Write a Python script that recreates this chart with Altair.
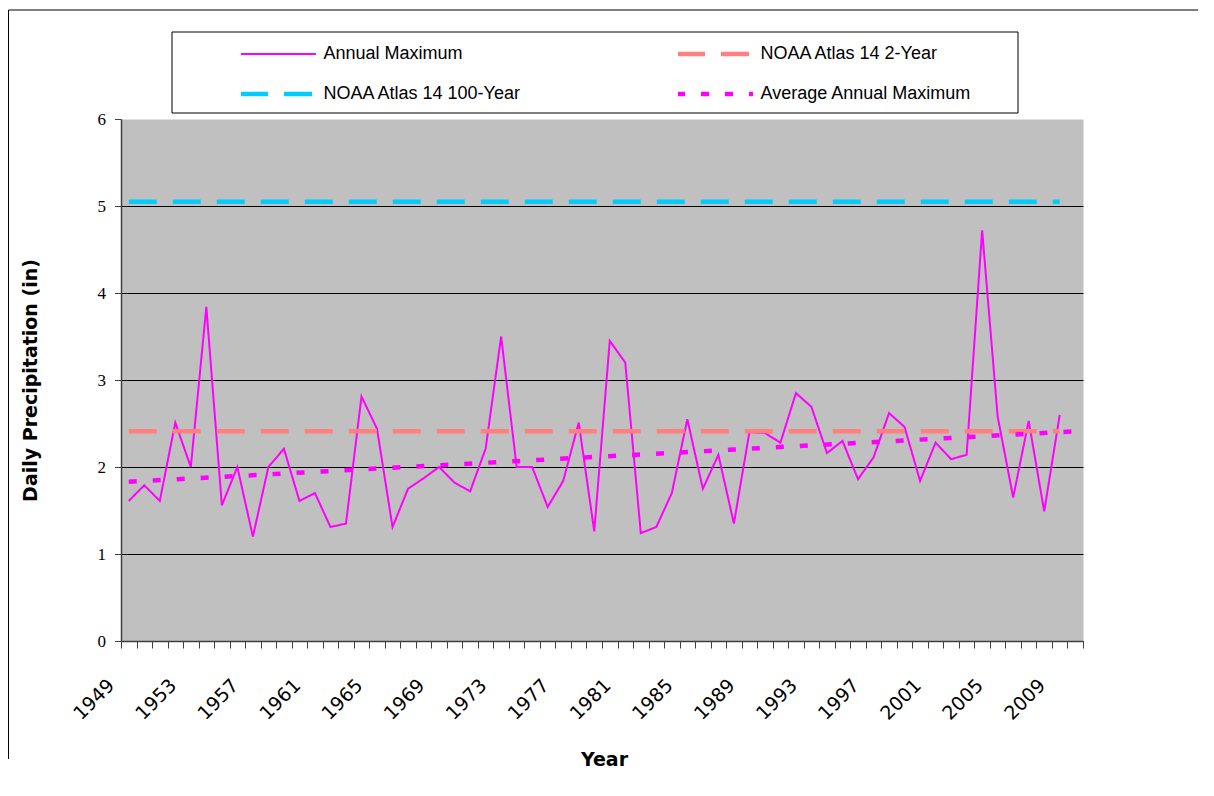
import altair as alt
import pandas as pd

# ---------------- data ----------------
years = list(range(1949, 2011))  # category axis 1949 .. 2010

annual_years = list(range(1949, 2010))
annual_max = [1.61, 1.79, 1.61, 2.51, 2.00, 3.84, 1.56, 2.00, 1.20, 2.00,
              2.21, 1.61, 1.70, 1.31, 1.35, 2.81, 2.44, 1.31, 1.75, 1.87,
              2.00, 1.82, 1.72, 2.21, 3.50, 2.00, 2.00, 1.54, 1.84, 2.51,
              1.26, 3.45, 3.20, 1.24, 1.31, 1.70, 2.55, 1.75, 2.14, 1.35,
              2.40, 2.39, 2.28, 2.85, 2.69, 2.16, 2.30, 1.86, 2.11, 2.62,
              2.46, 1.84, 2.28, 2.09, 2.14, 4.72, 2.58, 1.65, 2.53, 1.49, 2.60]

noaa2_years = [1949, 2009]
noaa2_values = [2.41, 2.41]

noaa100_years = [1949, 2009]
noaa100_values = [5.05, 5.05]

avg_years = [1949, 2010]
avg_values = [1.83, 2.41]

series = ["Annual Maximum", "NOAA Atlas 14 2-Year",
          "NOAA Atlas 14 100-Year", "Average Annual Maximum"]
colors = ["#FF00FF", "#FF8080", "#00CCFF", "#FF00FF"]
dashes = [[1, 0], [28, 16], [28, 16], [8, 16]]
widths = [2, 4.5, 4.5, 4.5]

# ---------------- table ----------------
rows = []
for ys, vs, s in [(annual_years, annual_max, series[0]),
                  (noaa2_years, noaa2_values, series[1]),
                  (noaa100_years, noaa100_values, series[2]),
                  (avg_years, avg_values, series[3])]:
    w = widths[series.index(s)]
    for yr, v in zip(ys, vs):
        rows.append({"year": yr, "value": v, "series": s, "sw": w})
df = pd.DataFrame(rows)

legend = alt.Legend(
    title=None, orient="none", legendX=120, legendY=-75, columns=2,
    direction="horizontal",
    symbolType="stroke", symbolSize=5776, symbolOffset=28,
    symbolStrokeWidth=alt.ExprRef(expr="datum.value == 'Annual Maximum' ? 2 : 4.5"),
    labelFont="Liberation Sans", labelFontSize=18, labelColor="black",
    labelOffset=36.5, labelLimit=400, clipHeight=20, rowPadding=20,
    columnPadding=156, padding=0,
)

x_enc = alt.X("year:O",
              scale=alt.Scale(type="band", domain=years, paddingInner=0, paddingOuter=0),
              bandPosition=0.5,
              axis=alt.Axis(
                  title="Year", titleFont="DejaVu Sans", titleFontWeight="bold",
                  titleFontSize=19, titleColor="black", titleX=483, titleY=118,
                  titleBaseline="middle", titleAlign="center",
                  labelAngle=315, labelAlign="right", labelBaseline="middle",
                  labelFont="DejaVu Sans", labelFontSize=19, labelColor="black",
                  labelPadding=34, labelOffset=-18, labelOverlap=False,
                  labelExpr="(datum.value - 1949) % 4 == 0 ? datum.label : ''",
                  tickBand="extent", tickSize=7, tickColor="#404040", tickWidth=1,
                  domainColor="#404040", domainWidth=1.5, grid=False))
y_enc = alt.Y("value:Q",
              scale=alt.Scale(domain=[0, 6], nice=False, zero=True),
              axis=alt.Axis(
                  values=[0, 1, 2, 3, 4, 5, 6],
                  title="Daily Precipitation (in)", titleFont="DejaVu Sans",
                  titleFontWeight="bold", titleFontSize=19, titleColor="black",
                  titleX=-91, titleY=261, titleAngle=270, titleBaseline="middle",
                  titleAlign="center",
                  labelFont="Liberation Serif", labelFontSize=17, labelColor="black",
                  labelPadding=9, tickSize=6.5, tickColor="#404040", tickWidth=1,
                  domainColor="#404040", domainWidth=1.5,
                  grid=True, gridWidth=1, gridOpacity=1,
                  gridColor={"condition": {"test": "datum.value == 6", "value": "transparent"},
                             "value": "black"}))

base = alt.Chart(df).mark_line(strokeCap="butt").encode(
    x=x_enc, y=y_enc,
    color=alt.Color("series:N", scale=alt.Scale(domain=series, range=colors), legend=legend),
    strokeDash=alt.StrokeDash("series:N", scale=alt.Scale(domain=series, range=dashes), legend=legend),
    strokeWidth=alt.StrokeWidth("sw:Q", scale=None, legend=None),
    detail="series:N",
)
annual_layer = base.transform_filter(alt.datum.series == series[0])
other_layer = base.transform_filter(alt.datum.series != series[0])

one = pd.DataFrame({"k": [0]})
frame_top = alt.Chart(one).mark_rule(color="black", strokeWidth=1).encode(
    x=alt.value(-112.5), x2=alt.value(1080), y=alt.value(-109))
frame_left = alt.Chart(one).mark_rule(color="black", strokeWidth=1).encode(
    x=alt.value(-112.5), y=alt.value(-109), y2=alt.value(640))
box = alt.Chart(one).mark_rect(fill="white", stroke="black", strokeWidth=1).encode(
    x=alt.value(51), x2=alt.value(897), y=alt.value(-87), y2=alt.value(-6))

chart = alt.layer(frame_top, frame_left, box, annual_layer, other_layer).properties(
    width=962, height=522,
    padding={"left": 113, "top": 111, "right": 115, "bottom": 140},
    autosize=alt.AutoSizeParams(type="none"),
    background="white",
).configure_view(fill="#C0C0C0", stroke="transparent")

chart.save("out.html", embed_options={"renderer": "svg", "actions": False})
